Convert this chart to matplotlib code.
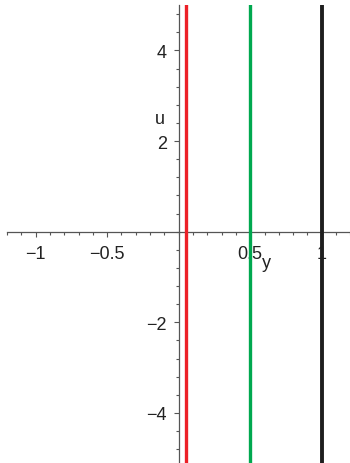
import numpy as np
import matplotlib.pyplot as plt
from matplotlib.ticker import MultipleLocator

# vertical lines y = const, drawn for u in [-5, 5]
line_y = [0.05, 0.5, 1.0]
line_colors = ['#ec2027', '#00a84f', '#1e1e1e']
line_widths = [2.4, 2.4, 2.8]
u_range = [-5.3, 5.3]

x_major = [-1, -0.5, 0.5, 1]
x_labels = ['\u22121', '\u22120.5', '0.5', '1']
y_major = [-4, -2, 2, 4]
y_labels = ['\u22124', '\u22122', '2', '4']

plt.rcParams['font.family'] = ['Liberation Sans', 'DejaVu Sans']

fig = plt.figure(figsize=(3.5, 4.64), dpi=100)
ax = fig.add_axes([7.1 / 350, 0.0, 343.2 / 350, 457.8 / 464])

for yv, c, w in zip(line_y, line_colors, line_widths):
    ax.plot([yv, yv], u_range, color=c, lw=w, zorder=3, solid_capstyle='butt')

ax.set_xlim(-1.2, 1.2)
ax.set_ylim(-5.106, 5.0)

for s in ['top', 'right']:
    ax.spines[s].set_visible(False)
ax.spines['left'].set_position(('data', 0))
ax.spines['bottom'].set_position(('data', 0))
for s in ['left', 'bottom']:
    ax.spines[s].set_color('#555555')
    ax.spines[s].set_linewidth(0.9)

ax.set_xticks(x_major)
ax.set_xticklabels(x_labels)
ax.set_yticks(y_major)
ax.set_yticklabels(y_labels)
ax.xaxis.set_minor_locator(MultipleLocator(0.1))
ax.yaxis.set_minor_locator(MultipleLocator(0.4))
ax.tick_params(axis='both', which='major', length=3.5, width=0.8, color='#555555',
               labelsize=13, labelcolor='#222222')
ax.tick_params(axis='both', which='minor', length=2, width=0.8, color='#555555')
ax.tick_params(axis='x', which='major', pad=6)
ax.tick_params(axis='y', which='major', pad=5)

ax.text(-0.13, 2.49, 'u', fontsize=13, color='#222222', ha='center', va='center')
ax.text(0.615, -0.68, 'y', fontsize=13, color='#222222', ha='center', va='center')

fig.savefig('out.png', dpi=100)
